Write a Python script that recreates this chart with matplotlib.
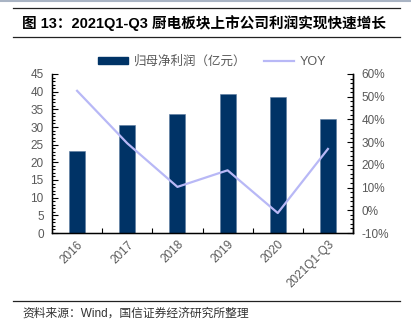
import matplotlib
matplotlib.use("Agg")
import matplotlib.pyplot as plt
from matplotlib.lines import Line2D
from matplotlib.patches import Patch
from matplotlib.ticker import MultipleLocator, FuncFormatter, FixedLocator

# 厨电板块上市公司归母净利润及同比
categories = ["2016", "2017", "2018", "2019", "2020", "2021Q1-Q3"]
net_profit = [23.2, 30.6, 33.7, 39.3, 38.5, 32.3]   # 亿元
yoy_pct = [52.6, 29.5, 10.3, 17.6, -1.2, 27.0]      # %

BAR_COLOR = "#003366"
LINE_COLOR = "#b8b8f6"
TEXT_GRAY = "#595959"

plt.rcParams["font.family"] = ["Liberation Sans", "Noto Sans CJK SC", "DejaVu Sans"]

W, H = 411, 331
fig = plt.figure(figsize=(W / 100, H / 100), dpi=100)

# plot area in pixel units
left, right, top, bottom = 52, 353, 74, 233
ax = fig.add_axes([left / W, 1 - bottom / H, (right - left) / W, (bottom - top) / H])
x = range(len(categories))
ax.bar(x, net_profit, width=0.32, color=BAR_COLOR, edgecolor="#5a7aa0", linewidth=0.4, zorder=2)
ax.set_xlim(-0.5, len(categories) - 0.5)
ax.set_ylim(0, 45)
ax.yaxis.set_major_locator(MultipleLocator(5))
ax.yaxis.set_minor_locator(MultipleLocator(1))
ax.set_xticks(list(x))
ax.set_xticklabels(categories, rotation=45, ha="right", rotation_mode="anchor")
ax.xaxis.set_minor_locator(FixedLocator([i + 0.5 for i in range(-1, len(categories))]))
ax.tick_params(axis="both", which="both", direction="in", colors="black",
               labelcolor=TEXT_GRAY, labelsize=8.5, width=0.8)
ax.tick_params(axis="y", which="major", length=4, pad=6)
ax.tick_params(axis="y", which="minor", length=2.5)
ax.tick_params(axis="x", which="both", length=3.5, pad=4)
ax.spines["top"].set_visible(False)
for s in ("left", "bottom", "right"):
    ax.spines[s].set_linewidth(1.0)

ax2 = ax.twinx()
ax2.plot(list(x), yoy_pct, color=LINE_COLOR, linewidth=1.6, zorder=3)
ax2.set_ylim(-10, 60)
ax2.yaxis.set_major_locator(MultipleLocator(10))
ax2.yaxis.set_minor_locator(MultipleLocator(2))
ax2.yaxis.set_major_formatter(FuncFormatter(lambda v, _: f"{v:.0f}%"))
ax2.tick_params(axis="y", which="both", direction="in", colors="black",
                labelcolor=TEXT_GRAY, labelsize=8.5, width=0.8)
ax2.tick_params(axis="y", which="major", length=4, pad=6)
ax2.tick_params(axis="y", which="minor", length=2.5)
ax2.spines["top"].set_visible(False)
ax2.spines["right"].set_linewidth(1.0)

handles = [Patch(facecolor=BAR_COLOR, edgecolor=BAR_COLOR),
           Line2D([0], [0], color=LINE_COLOR, linewidth=1.6)]
fig.legend(handles, ["归母净利润（亿元）", "YOY"], loc="center",
           bbox_to_anchor=(212 / W, 1 - 62 / H), ncol=2, frameon=False,
           fontsize=9, labelcolor=TEXT_GRAY, handlelength=2.4, handleheight=0.5,
           handletextpad=0.5, columnspacing=1.4)

# title block and source note
fig.add_artist(Line2D([0, 1], [1 - 1 / H, 1 - 1 / H], color="#a9b4c4", linewidth=1.5))
for yy in (8, 37, 301):
    fig.add_artist(Line2D([13 / W, 400 / W], [1 - yy / H, 1 - yy / H], color="#222222", linewidth=0.9))
fig.text(22 / W, 1 - 23 / H, "图 13：2021Q1-Q3 厨电板块上市公司利润实现快速增长",
         fontsize=10.5, fontweight="bold", color="black", va="center", ha="left")
fig.text(22 / W, 1 - 314 / H, "资料来源：Wind，国信证券经济研究所整理",
         fontsize=8.5, color="#333333", va="center", ha="left")

fig.savefig("out.png", dpi=100)
